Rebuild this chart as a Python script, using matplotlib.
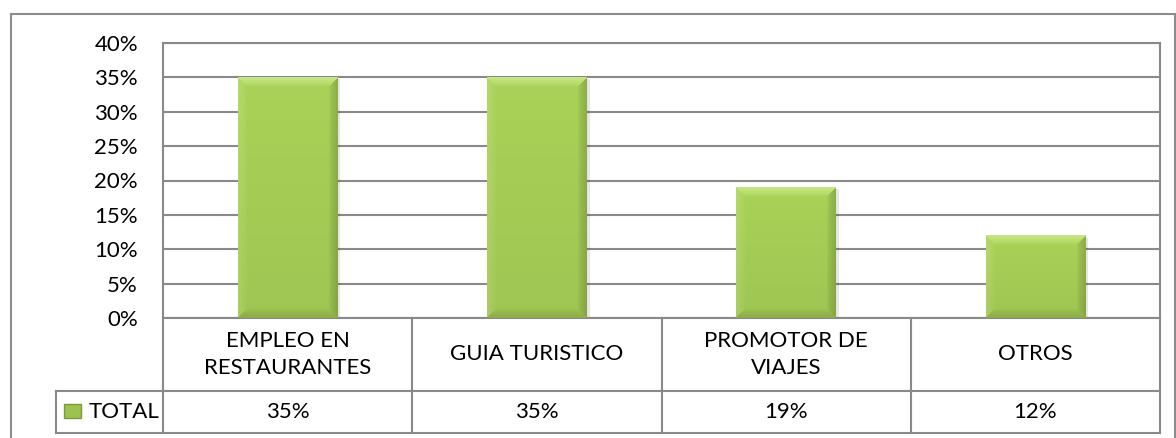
import numpy as np
import matplotlib
matplotlib.use("Agg")
import matplotlib.pyplot as plt
from matplotlib.transforms import blended_transform_factory
from matplotlib.lines import Line2D
from matplotlib.patches import Rectangle

categories = ["EMPLEO EN\nRESTAURANTES", "GUIA TURISTICO", "PROMOTOR DE\nVIAJES", "OTROS"]
values = [35, 35, 19, 12]
series_name = "TOTAL"
y_ticks = [0, 5, 10, 15, 20, 25, 30, 35, 40]
y_tick_labels = ["0%", "5%", "10%", "15%", "20%", "25%", "30%", "35%", "40%"]
value_labels = ["35%", "35%", "19%", "12%"]

W, H = 1176, 438
plt.rcParams['font.family'] = ['Lato', 'DejaVu Sans']
FS = 16
GRID = "#898989"

fig = plt.figure(figsize=(W / 100, H / 100), dpi=100)
fig.patch.set_facecolor("white")

def fx(px):
    return px / W

def fy(py):
    return 1 - py / H

L, T, R, B = 163, 43, 1160, 318
ax = fig.add_axes([fx(L), fy(B), fx(R) - fx(L), (B - T) / H])
ax.set_xlim(-0.5, len(categories) - 0.5)
ax.set_ylim(0, 40)
ax.set_yticks(y_ticks)
ax.set_yticklabels(y_tick_labels, fontsize=FS)
ax.tick_params(axis="y", length=0, pad=18)
ax.set_xticks([])
ax.yaxis.grid(True, color=GRID, linewidth=1.5)
ax.set_axisbelow(True)
for s in ax.spines.values():
    s.set_color(GRID)
    s.set_linewidth(1.5)

x = np.arange(len(categories))
bars = ax.bar(x, values, width=0.4, color="#A5CB55", zorder=2)

def bevel_img(wpx, hpx, b=9):
    face = np.array([0xA6, 0xCE, 0x56]) / 255
    top = np.array([0xC2, 0xE2, 0x80]) / 255
    left = np.array([0xB0, 0xD5, 0x66]) / 255
    right = np.array([0x8A, 0xAC, 0x46]) / 255
    bottom = np.array([0x92, 0xB4, 0x4B]) / 255
    yy, xx = np.mgrid[0:hpx, 0:wpx]
    d = np.stack([yy, hpx - 1 - yy, xx, wpx - 1 - xx]).astype(float)
    idx = np.argmin(d, axis=0)
    dmin = np.min(d, axis=0)
    wgt = np.clip(1 - dmin / b, 0, 1) ** 0.7
    img = np.empty((hpx, wpx, 3))
    img[:] = face
    cols = [top, bottom, left, right]
    for k in range(4):
        m = idx == k
        img[m] = face * (1 - wgt[m, None]) + cols[k] * wgt[m, None]
    g = np.linspace(1.02, 0.96, hpx)[:, None, None]
    return np.clip(img * g, 0, 1)

fig.canvas.draw()
for bar in bars:
    x0, y0 = bar.get_x(), bar.get_y()
    bw, bh = bar.get_width(), bar.get_height()
    p0 = ax.transData.transform((x0, y0))
    p1 = ax.transData.transform((x0 + bw, y0 + bh))
    wpx = max(int(round(p1[0] - p0[0])), 2)
    hpx = max(int(round(p1[1] - p0[1])), 2)
    ax.add_patch(Rectangle((x0 + 0.012, y0), bw, bh - 0.3, color="#000000", alpha=0.10,
                           zorder=1.9, linewidth=0))
    ax.imshow(bevel_img(wpx, hpx), extent=(x0, x0 + bw, y0, y0 + bh), aspect="auto",
              interpolation="bilinear", zorder=3)
ax.set_xlim(-0.5, len(categories) - 0.5)
ax.set_ylim(0, 40)

# data table
bt = blended_transform_factory(ax.transData, ax.transAxes)
row1_bot = (B - 391) / (B - T)
row2_bot = (B - 433) / (B - T)
left_ax = (55.7 - L) / (R - L)
for b in np.arange(len(categories) + 1) - 0.5:
    ax.add_line(Line2D([b, b], [0, row2_bot], transform=bt, color=GRID, lw=1.5, clip_on=False))
for yv in [row1_bot, row2_bot]:
    ax.add_line(Line2D([left_ax, 1], [yv, yv], transform=ax.transAxes, color=GRID, lw=1.5, clip_on=False))
ax.add_line(Line2D([left_ax, left_ax], [row1_bot, row2_bot], transform=ax.transAxes, color=GRID, lw=1.5, clip_on=False))

for i, (c, v) in enumerate(zip(categories, value_labels)):
    ax.text(i, row1_bot / 2, c, transform=bt, ha="center", va="center", fontsize=FS,
            linespacing=1.4, clip_on=False)
    ax.text(i, (row1_bot + row2_bot) / 2, v, transform=bt, ha="center", va="center",
            fontsize=FS, clip_on=False)

# legend key + series name
fig.patches.append(Rectangle((fx(64), fy(418)), fx(81) - fx(64), (418 - 404) / H,
                             transform=fig.transFigure, facecolor="#9DC24F",
                             edgecolor="#7C9C3A", linewidth=1))
fig.text(fx(89), fy(412), series_name, ha="left", va="center", fontsize=FS)

# outer chart border
fig.add_artist(Line2D([fx(11), fx(11)], [fy(14), 0], transform=fig.transFigure, color="#8C8C8C", lw=1.5))
fig.add_artist(Line2D([fx(11), 1], [fy(14), fy(14)], transform=fig.transFigure, color="#8C8C8C", lw=1.5))
fig.add_artist(Line2D([fx(1175), fx(1175)], [fy(14), 0], transform=fig.transFigure, color="#8C8C8C", lw=1.5))

fig.savefig("out.png", dpi=100, facecolor="white")
